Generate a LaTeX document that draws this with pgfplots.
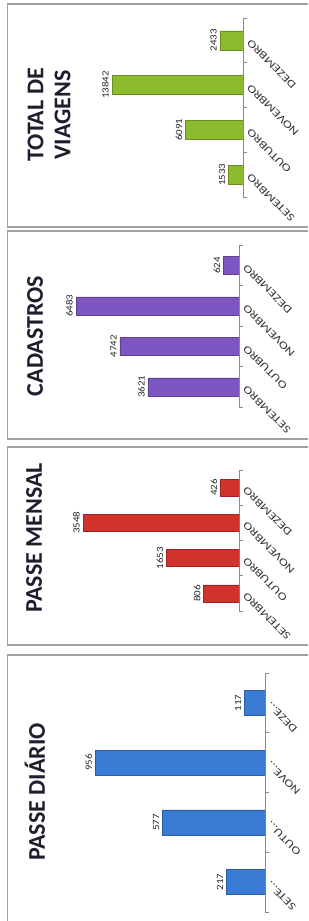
\documentclass[border=0pt]{standalone}
\usepackage{fontspec}
\setmainfont{Carlito}
\newfontfamily\tickfont[FakeStretch=1.3]{Carlito}
\newfontfamily\valfont[FakeStretch=1.15]{Carlito}
\usepackage{pgfplots}
\pgfplotsset{compat=1.18}
\definecolor{cgreen}{HTML}{8CBB2E}
\definecolor{cpurple}{HTML}{7E56C2}
\definecolor{cred}{HTML}{D3312C}
\definecolor{cblue}{HTML}{3A7BD5}
\definecolor{frame}{HTML}{A0A0A0}
\definecolor{axgray}{HTML}{8A8A8A}
\definecolor{titlec}{HTML}{1E1E2E}
\pgfplotsset{
  panel/.style={
    xbar, x dir=reverse, scale only axis, width=200pt,
    xmin=0, ymin=-0.5, ymax=3.5,
    axis x line=none, axis y line=right,
    axis line style={axgray, line width=0.8pt, -},
    ytick={0,1,2,3},
    major tick length=0pt,
    minor ytick={-0.5,0.5,1.5,2.5,3.5},
    minor tick length=4pt,
    tick align=outside,
    minor tick style={axgray, line width=0.8pt},
    yticklabel shift=5pt,
    yticklabel style={rotate=135, anchor=east, font=\tickfont\fontsize{10.6}{12}\selectfont, text=black!80, inner sep=1pt},
    nodes near coords,
    /pgf/number format/1000 sep={},
    /pgf/number format/assume math mode=true,
    nodes near coords style={rotate=90, anchor=south, font=\valfont\fontsize{9.5}{11}\selectfont, text=black!85, inner sep=3pt},
  },
}
\begin{document}
\begin{tikzpicture}
\useasboundingbox (0pt,0pt) rectangle (308pt,-921pt);
% frames
\draw[frame, line width=1.6pt] (308pt,-4pt) -- (7.5pt,-4pt) -- (7.5pt,-227pt) -- (308pt,-227pt);
\draw[frame, line width=1.6pt] (308pt,-231pt) -- (7.5pt,-231pt) -- (7.5pt,-439pt) -- (308pt,-439pt);
\draw[frame, line width=1.6pt] (308pt,-447pt) -- (7.5pt,-447pt) -- (7.5pt,-645pt) -- (308pt,-645pt);
\draw[frame, line width=1.6pt] (308pt,-655pt) -- (7.5pt,-655pt) -- (7.5pt,-921pt);
% titles
\node[rotate=90, font=\bfseries\fontsize{24}{27}\selectfont, text=titlec, align=center] at (49pt,-115pt) {TOTAL DE\\VIAGENS};
\node[rotate=90, font=\bfseries\fontsize{24}{27}\selectfont, text=titlec] at (35pt,-336pt) {CADASTROS};
\node[rotate=90, font=\bfseries\fontsize{24}{27}\selectfont, text=titlec] at (34pt,-538pt) {PASSE MENSAL};
\node[rotate=90, font=\bfseries\fontsize{24}{27}\selectfont, text=titlec] at (35pt,-792pt) {PASSE DIÁRIO};
% panel 1
\begin{axis}[panel, at={(243pt,-197pt)}, anchor=south east, height=179pt, xmax=21133, bar width=19pt,
  yticklabels={SETEMBRO,OUTUBRO,NOVEMBRO,DEZEMBRO}]
\addplot[draw=cgreen!75!black, fill=cgreen] coordinates {(1533,0) (6091,1) (13842,2) (2433,3)};
\end{axis}
% panel 2
\begin{axis}[panel, at={(239pt,-407pt)}, anchor=south east, height=162pt, xmax=7955, bar width=18pt,
  yticklabels={SETEMBRO,OUTUBRO,NOVEMBRO,DEZEMBRO}]
\addplot[draw=cpurple!75!black, fill=cpurple] coordinates {(3621,0) (4742,1) (6483,2) (624,3)};
\end{axis}
% panel 3
\begin{axis}[panel, at={(239pt,-611pt)}, anchor=south east, height=141pt, xmax=4549, bar width=17pt,
  yticklabels={SETEMBRO,OUTUBRO,NOVEMBRO,DEZEMBRO}]
\addplot[draw=cred!75!black, fill=cred] coordinates {(806,0) (1653,1) (3548,2) (426,3)};
\end{axis}
% panel 4
\begin{axis}[panel, at={(265pt,-912pt)}, anchor=south east, height=239pt, xmax=1125, bar width=25pt,
  yticklabel shift=3pt,
  yticklabels={SETE…,OUTU…,NOVE…,DEZE…}]
\addplot[draw=cblue!75!black, fill=cblue] coordinates {(217,0) (577,1) (956,2) (117,3)};
\end{axis}
\end{tikzpicture}
\end{document}
